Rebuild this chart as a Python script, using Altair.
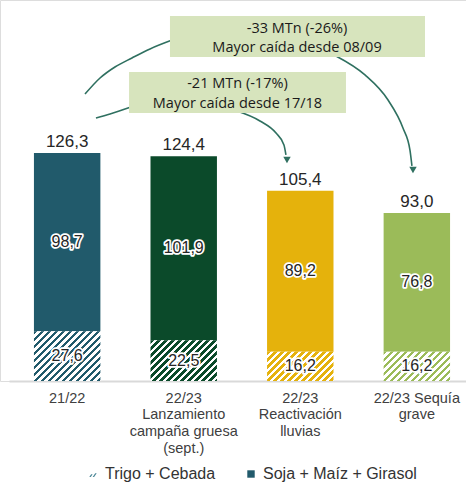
import altair as alt
import pandas as pd

# ---------------- data ----------------
cats = ["21/22",
        "22/23|Lanzamiento|campaña gruesa|(sept.)",
        "22/23|Reactivación|lluvias",
        "22/23 Sequía|grave"]
trigo = [27.6, 22.5, 16.2, 16.2]
soja = [98.7, 101.9, 89.2, 76.8]
totals = [126.3, 124.4, 105.4, 93.0]
groups = ["Trigo + Cebada", "Soja + Maíz + Girasol"]

box_lines = ["-33 MTn (-26%)|Mayor caída desde 08/09",
             "-21 MTn (-17%)|Mayor caída desde 17/18"]
box_x = [1.381, 1.03]
box_x2 = [3.569, 2.891]
box_v = [202.1, 171.1]
box_v2 = [179.4, 148.4]
box_tx = [2.471, 1.96]
box_tv = [195.2, 164.5]

# curved connector paths (x in bar-slot units, y in MTn)
path_id = ["a"] * 6 + ["b"] * 6 + ["c"] * 3 + ["d"] * 5
path_x = [0.652, 0.781, 0.909, 1.055, 1.210, 1.400,
          2.805, 3.054, 3.252, 3.380, 3.440, 3.457,
          0.746, 0.867, 1.040,
          1.956, 2.153, 2.291, 2.359, 2.376]
path_v = [158.9, 167.8, 173.9, 178.9, 183.9, 188.8,
          180.0, 169.5, 155.6, 140.1, 127.9, 119.1,
          145.6, 147.9, 151.6,
          149.5, 144.0, 137.3, 130.7, 125.2]
head_x = [3.466, 2.385]
head_v = [116.9, 122.4]

# ---------------- style ----------------
bar_colors = ["#215a6b", "#0b4a2a", "#e5b20c", "#9bbb59"]
legend_colors = ["#4b8797", "#215a6b"]
arrow_color = "#2f7060"
box_fill = "#d7e4bd"
W, H, YMAX = 466, 381, 211.0
XR = [9, 475]
PX_PER_UNIT = H / YMAX
BAR_W = (XR[1] - XR[0]) / (4 - 0.43 + 2 * 0.214) * 0.57

xscale = alt.Scale(domain=cats, range=XR, paddingInner=0.43, paddingOuter=0.214)
yscale = alt.Scale(domain=[0, YMAX], nice=False, zero=True)
qxscale = alt.Scale(domain=[0, 3.998], range=XR, nice=False, zero=False)

xaxis = alt.Axis(labelExpr="split(datum.label, '|')", labelFont="Liberation Sans",
                 labelFontSize=14.5, labelColor="#404040", labelLineHeight=16.7,
                 labelPadding=10, ticks=False, domainColor="#d9d9d9", domainWidth=2,
                 labelAngle=0, labelOverlap=False, labelLimit=0, title=None)

X = alt.X("cat:N", sort=cats, scale=xscale, axis=xaxis, title=None)


def hatch(color, h_px, w_px=BAR_W, period=7.0, frac=0.5):
    b = h_px / w_px
    s = (1 + b) / (1 + b * b)
    n = (w_px + h_px) / period
    stops = []
    k = 0
    while k / n < 1:
        a = k / n
        m = min((k + frac) / n, 1)
        e = min((k + 1) / n, 1)
        stops += [{"offset": a, "color": color}, {"offset": m, "color": color},
                  {"offset": m, "color": "#ffffff"}, {"offset": e, "color": "#ffffff"}]
        k += 1
    return {"gradient": "linear", "x1": 0, "y1": 0, "x2": s, "y2": s * b, "stops": stops}


rows = []
for i, c in enumerate(cats):
    rows.append({"cat": c, "idx": i, "grupo": groups[0], "start": 0.0,
                 "end": trigo[i], "value": trigo[i]})
    rows.append({"cat": c, "idx": i, "grupo": groups[1], "start": trigo[i],
                 "end": trigo[i] + soja[i], "value": soja[i]})
seg = pd.DataFrame(rows)
tot = pd.DataFrame({"cat": cats, "total": totals})

base = alt.Chart(seg)

solid = base.transform_filter(alt.datum.grupo == groups[1]).mark_bar().encode(
    x=X,
    y=alt.Y("start:Q", scale=yscale, axis=None),
    y2="end:Q",
    fill=alt.Fill("cat:N", scale=alt.Scale(domain=cats, range=bar_colors), legend=None),
)

hatches = []
for i in range(len(cats)):
    hatches.append(
        base.transform_filter((alt.datum.grupo == groups[0]) & (alt.datum.idx == i))
        .mark_bar(fill=hatch(bar_colors[i], trigo[i] * PX_PER_UNIT))
        .encode(x=X, y=alt.Y("start:Q", scale=yscale, axis=None), y2="end:Q")
    )

lab_base = base.transform_calculate(
    mid="(datum.start + datum.end) / 2",
    lbl="replace(format(datum.value, '.1f'), '.', ',')",
)
halo = lab_base.mark_text(font="Liberation Sans", fontSize=16, stroke="white",
                          strokeWidth=3.5, strokeJoin="round", fill="white",
                          baseline="middle").encode(
    x=X, y=alt.Y("mid:Q", scale=yscale, axis=None), text="lbl:N")
labels = lab_base.mark_text(font="Liberation Sans", fontSize=16, fill="#262626",
                            baseline="middle").encode(
    x=X, y=alt.Y("mid:Q", scale=yscale, axis=None), text="lbl:N")

tot_text = alt.Chart(tot).transform_calculate(
    lbl="replace(format(datum.total, '.1f'), '.', ',')"
).mark_text(font="Liberation Sans", fontSize=17, fill="#262626",
            baseline="alphabetic", dy=-6).encode(
    x=X, y=alt.Y("total:Q", scale=yscale, axis=None), text="lbl:N")

hatch_path = ("M-1,0.8L-0.6,0.8L-0.1,0.1L-0.5,0.1Z "
              "M-0.1,0.8L0.3,0.8L1,-0.2L0.6,-0.2Z")
leg = alt.Legend(orient="none", legendX=85, legendY=466, direction="horizontal",
                 title=None, labelFont="Liberation Sans", labelFontSize=16,
                 labelColor="#333333", symbolSize=55, symbolOpacity=1,
                 columnPadding=27, labelOffset=4, symbolStrokeWidth=0)
legend_layer = base.mark_point(filled=True, opacity=0).encode(
    color=alt.Color("grupo:N", scale=alt.Scale(domain=groups, range=legend_colors), legend=leg),
    shape=alt.Shape("grupo:N", scale=alt.Scale(domain=groups, range=[hatch_path, "square"]), legend=leg),
)

bars_layer = alt.layer(solid, *hatches, halo, labels, tot_text, legend_layer)

# ---------------- annotations ----------------
boxes = pd.DataFrame({"x": box_x, "x2": box_x2, "v": box_v, "v2": box_v2,
                      "tx": box_tx, "tv": box_tv, "t": box_lines})
paths = pd.DataFrame({"pid": path_id, "x": path_x, "v": path_v,
                      "o": list(range(len(path_x)))})
heads = pd.DataFrame({"x": head_x, "v": head_v})

QX = lambda f: alt.X(f, scale=qxscale, axis=None, title=None)
QY = lambda f: alt.Y(f, scale=yscale, axis=None, title=None)

rects = alt.Chart(boxes).mark_rect(fill=box_fill).encode(
    x=QX("x:Q"), x2="x2:Q", y=QY("v:Q"), y2="v2:Q")
btext = alt.Chart(boxes).transform_calculate(
    lines="split(datum.t, '|')"
).mark_text(font="Open Sans", fontSize=14.5, fill="#1a1a1a", baseline="middle",
            lineHeight=19.6).encode(
    x=QX("tx:Q"), y=QY("tv:Q"), text="lines:N")
curves = alt.Chart(paths).mark_line(color=arrow_color, strokeWidth=1.6,
                                    interpolate="monotone").encode(
    x=QX("x:Q"), y=QY("v:Q"), detail="pid:N", order="o:Q")
arrowheads = alt.Chart(heads).mark_point(shape="triangle-down", filled=True,
                                         size=55, color=arrow_color, opacity=1).encode(
    x=QX("x:Q"), y=QY("v:Q"))

annot_layer = alt.layer(curves, arrowheads, rects, btext)

chart = alt.layer(bars_layer, annot_layer).resolve_scale(x="independent").properties(
    width=W, height=H,
    autosize=alt.AutoSizeParams(type="none"),
    padding={"left": 0, "top": 0, "right": 0, "bottom": 102},
    background="white",
).configure_view(stroke=None).configure(font="Liberation Sans")

chart.save("out.html", embed_options={"renderer": "svg", "actions": False})
